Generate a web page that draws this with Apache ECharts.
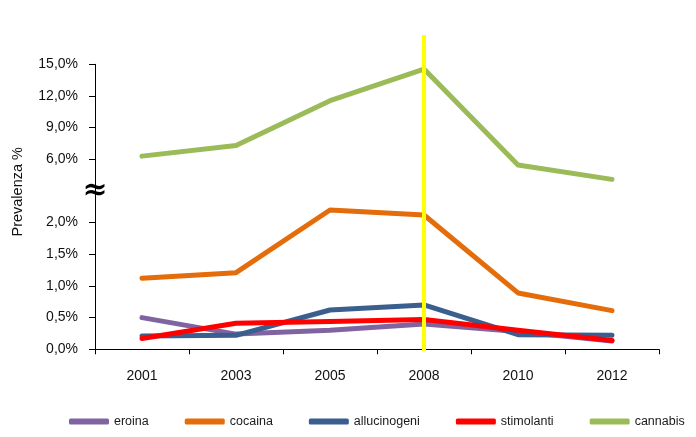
<!DOCTYPE html>
<html>
<head>
<meta charset="utf-8">
<script src="https://cdn.jsdelivr.net/npm/echarts@6/dist/echarts.min.js"></script>
<style>
  html, body { margin: 0; padding: 0; background: #fff; }
  #chart { width: 696px; height: 437px; }
</style>
</head>
<body>
<div id="chart"></div>
<script>
// ---- data (prevalence, %) ----
const years = ['2001', '2003', '2005', '2008', '2010', '2012'];
const eroina = [0.50, 0.24, 0.30, 0.40, 0.28, 0.13];
const cocaina = [1.12, 1.21, 2.20, 2.12, 0.89, 0.61];
const allucinogeni = [0.21, 0.22, 0.62, 0.70, 0.23, 0.22];
const stimolanti = [0.17, 0.41, 0.44, 0.47, 0.30, 0.14];
const cannabis = [6.3, 7.3, 11.55, 14.55, 5.46, 4.1];
// tick labels of the broken axis (one per axis slot; slot 5 = break)
const yTickLabels = ['0,0%', '0,5%', '1,0%', '1,5%', '2,0%', '', '6,0%', '9,0%', '12,0%', '15,0%'];
const highlightYear = '2008';

// broken-axis transforms: lower segment 0.5% per slot, upper segment 3% per slot starting at 6% = slot 6
const lower = v => v / 0.5;
const upper = v => v / 3 + 4;

const seriesDefs = [
  { name: 'eroina', data: eroina, map: lower, color: '#8064A2' },
  { name: 'cocaina', data: cocaina, map: lower, color: '#E46C0A' },
  { name: 'allucinogeni', data: allucinogeni, map: lower, color: '#3A5F8F' },
  { name: 'stimolanti', data: stimolanti, map: lower, color: '#FF0000' },
  { name: 'cannabis', data: cannabis, map: upper, color: '#9BBB59' }
];

const font = 'Liberation Sans';
const chart = echarts.init(document.getElementById('chart'), null, { renderer: 'canvas' });

const series = seriesDefs.map(s => ({
  name: s.name,
  type: 'line',
  xAxisIndex: 0,
  yAxisIndex: 0,
  data: s.data.map(s.map),
  showSymbol: false,
  symbol: 'none',
  lineStyle: { color: s.color, width: 5, join: 'round', cap: 'round' },
  itemStyle: { color: s.color },
  clip: false,
  animation: false
}));

// highlight line for 2008, in an overlay grid that reaches above the plot
series.push({
  name: 'highlight',
  type: 'line',
  xAxisIndex: 1,
  yAxisIndex: 1,
  data: [],
  z: 10,
  markLine: {
    silent: true,
    symbol: 'none',
    label: { show: false },
    animation: false,
    lineStyle: { color: '#FFFF00', width: 4, type: 'solid' },
    data: [{ xAxis: highlightYear }]
  }
});

chart.setOption({
  animation: false,
  backgroundColor: '#fff',
  textStyle: { fontFamily: font },
  grid: [
    { left: 95, right: 37, top: 64.3, bottom: 87.7, containLabel: false },
    { left: 95, right: 37, top: 35, bottom: 86.3, containLabel: false }
  ],
  legend: {
    bottom: 4,
    left: 64,
    itemWidth: 40,
    itemHeight: 6,
    itemGap: 36,
    icon: 'roundRect',
    textStyle: { fontFamily: font, fontSize: 12.5, color: '#1a1a1a' },
    data: seriesDefs.map(s => s.name)
  },
  xAxis: [{
    type: 'category',
    gridIndex: 0,
    data: years,
    boundaryGap: true,
    axisLine: { lineStyle: { color: '#000', width: 1 } },
    axisTick: { show: true, length: 5, lineStyle: { color: '#000' } },
    axisLabel: { margin: 20, fontSize: 14, color: '#111', fontFamily: font },
    splitLine: { show: false }
  }, {
    type: 'category',
    gridIndex: 1,
    data: years,
    boundaryGap: true,
    show: false
  }],
  yAxis: [{
    type: 'value',
    gridIndex: 0,
    min: 0,
    max: 9,
    interval: 1,
    name: 'Prevalenza %',
    nameLocation: 'middle',
    nameGap: 70,
    nameRotate: 90,
    nameTextStyle: { fontSize: 14.5, color: '#111', fontFamily: font, padding: [0, 0, 0, 30] },
    axisLine: { show: true, lineStyle: { color: '#000', width: 1 } },
    axisTick: { show: true, length: 6, lineStyle: { color: '#000' } },
    axisLabel: {
      margin: 17,
      fontSize: 14,
      color: '#111',
      fontFamily: font,
      formatter: v => yTickLabels[Math.round(v)] || ''
    },
    splitLine: { show: false }
  }, {
    type: 'value',
    gridIndex: 1,
    min: 0,
    max: 1,
    show: false
  }],
  series: series
});

// axis break symbol at the empty slot of the y axis
const breakPos = chart.convertToPixel({ xAxisIndex: 0, yAxisIndex: 0 }, [0, 5]);
const gridRect = chart.getModel().getComponent('grid', 0).coordinateSystem.getRect();
chart.setOption({
  graphic: [{
    type: 'text',
    x: gridRect.x,
    y: breakPos[1],
    z: 100,
    style: {
      text: '≈',
      fontSize: 30,
      fontWeight: 'bold',
      fontFamily: 'DejaVu Serif',
      fill: '#000',
      align: 'center',
      verticalAlign: 'middle'
    }
  }]
});
</script>
</body>
</html>
